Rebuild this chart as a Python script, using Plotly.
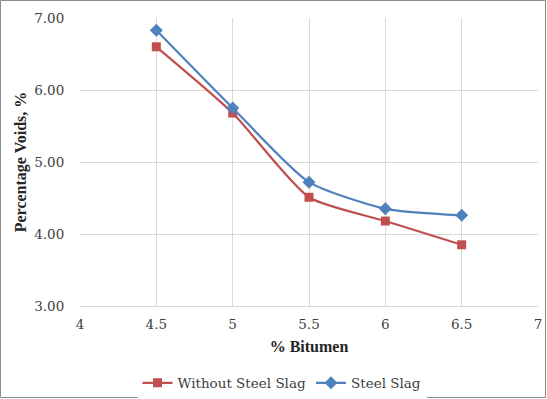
import plotly.graph_objects as go

bitumen = [4.5, 5, 5.5, 6, 6.5]
without_slag = [6.60, 5.68, 4.51, 4.18, 3.85]
steel_slag = [6.83, 5.75, 4.72, 4.35, 4.26]
y_ticks = [3, 4, 5, 6, 7]
y_tick_labels = ["3.00", "4.00", "5.00", "6.00", "7.00"]
x_ticks = [4, 4.5, 5, 5.5, 6, 6.5, 7]

W, H = 547, 399
ml, mr, mt, mb = 80, 9, 18, 93
pw, ph = W - ml - mr, H - mt - mb

BOLD = "Liberation Serif"
REG = "DejaVu Serif"
REG_SIZE = 13.5

fig = go.Figure()
fig.add_trace(go.Scatter(
    x=bitumen, y=without_slag, name="Without Steel Slag",
    mode="lines+markers", line=dict(color="#C0504D", width=2.2, shape="spline", smoothing=0.6),
    marker=dict(symbol="square", size=9, color="#C0504D")))
fig.add_trace(go.Scatter(
    x=bitumen, y=steel_slag, name="Steel Slag",
    mode="lines+markers", line=dict(color="#4F81BD", width=2.2, shape="spline", smoothing=0.6),
    marker=dict(symbol="diamond", size=10, color="#4F81BD")))

fig.update_layout(
    width=W, height=H, margin=dict(l=ml, r=mr, t=mt, b=mb, autoexpand=False),
    paper_bgcolor="white", plot_bgcolor="white",
    font=dict(family=REG, size=REG_SIZE, color="#404040"),
    xaxis=dict(range=[4, 7], tickvals=x_ticks, ticktext=[str(v) for v in x_ticks],
               showgrid=True, gridcolor="#d9d9d9", gridwidth=1,
               showline=True, linecolor="#d9d9d9", zeroline=False,
               ticks="outside", ticklen=6, tickcolor="rgba(0,0,0,0)",
               title=dict(text="<b>% Bitumen</b>", font=dict(family=BOLD, size=16, color="#262626"), standoff=9),
               tickfont=dict(family=REG, size=REG_SIZE, color="#404040")),
    yaxis=dict(range=[3, 7], tickvals=y_ticks, ticktext=y_tick_labels,
               showgrid=True, gridcolor="#d9d9d9", gridwidth=1,
               showline=False, zeroline=False,
               ticks="outside", ticklen=12, tickcolor="rgba(0,0,0,0)",
               title=dict(text="<b>Percentage Voids, %</b>", font=dict(family=BOLD, size=16, color="#262626"), standoff=3),
               tickfont=dict(family=REG, size=REG_SIZE, color="#404040")),
    legend=dict(orientation="h", x=282 / W, xanchor="center", xref="container",
                y=1 - 383 / H, yanchor="middle", yref="container",
                font=dict(family=REG, size=REG_SIZE, color="#404040"), itemwidth=30),
    showlegend=True,
)
fig.add_shape(type="rect", xref="paper", yref="paper",
              x0=-(ml - 0.5) / pw, x1=1 + (mr - 1.5) / pw,
              y0=-(mb - 1.5) / ph, y1=1 + (mt - 0.5) / ph,
              line=dict(color="#8c8c8c", width=1), fillcolor="rgba(0,0,0,0)")
fig.write_html("out.html")
